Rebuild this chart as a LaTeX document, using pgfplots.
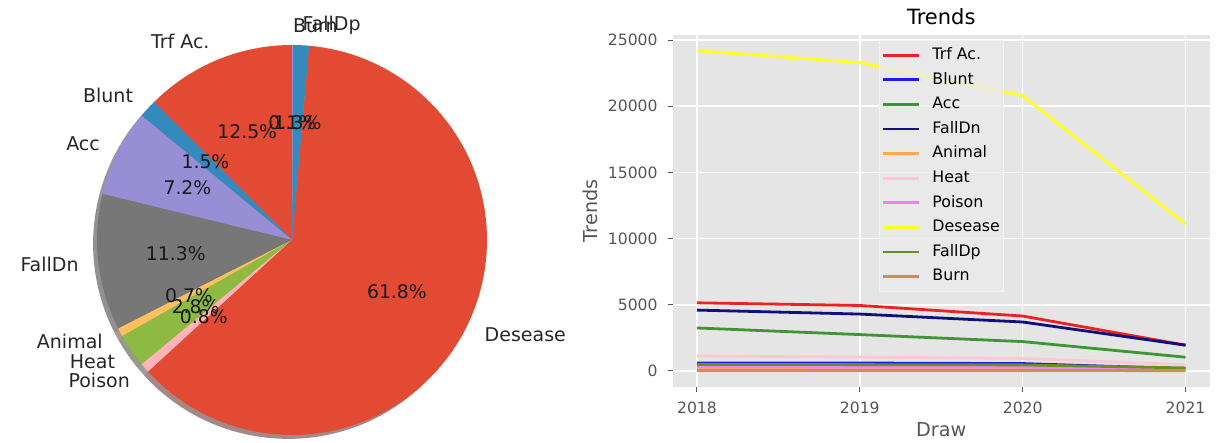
\documentclass[border=0pt]{standalone}
\usepackage{pgfplots}
\pgfplotsset{compat=1.18}
\usepackage{fontspec}
\setmainfont{DejaVu Sans}
\setsansfont{DejaVu Sans}

\definecolor{ggred}{HTML}{E24A33}
\definecolor{ggblue}{HTML}{348ABD}
\definecolor{ggpurple}{HTML}{988ED5}
\definecolor{gggray}{HTML}{777777}
\definecolor{ggyellow}{HTML}{FBC15E}
\definecolor{gggreen}{HTML}{8EBA42}
\definecolor{ggpink}{HTML}{FFB5B8}
\definecolor{bgc}{HTML}{E5E5E5}
\definecolor{tickc}{HTML}{555555}
\definecolor{legc}{HTML}{EBEBEB}
\definecolor{legedge}{HTML}{F2F2F2}

\definecolor{lred}{HTML}{F02020}
\definecolor{lblue}{HTML}{1A1AFF}
\definecolor{lgreen}{HTML}{3C9632}
\definecolor{lnavy}{HTML}{10107A}
\definecolor{lorange}{HTML}{FFAA50}
\definecolor{lpink}{HTML}{FFC8D0}
\definecolor{lviolet}{HTML}{EE82EE}
\definecolor{lyellow}{HTML}{FFFF20}
\definecolor{lolive}{HTML}{6B8E23}
\definecolor{lperu}{HTML}{CD8F50}

% pie shares (percent), in plotting order (counter-clockwise from 90 degrees)
\def\pTrf{12.5}\def\pBlunt{1.5}\def\pAcc{7.2}\def\pFallDn{11.3}\def\pAnimal{0.7}
\def\pHeat{2.8}\def\pPoison{0.8}\def\pDesease{61.8}\def\pFallDp{1.3}\def\pBurn{0.1}

\pgfmathsetmacro\aA{90}
\pgfmathsetmacro\aB{\aA+3.6*\pTrf}
\pgfmathsetmacro\aC{\aB+3.6*\pBlunt}
\pgfmathsetmacro\aD{\aC+3.6*\pAcc}
\pgfmathsetmacro\aE{\aD+3.6*\pFallDn}
\pgfmathsetmacro\aF{\aE+3.6*\pAnimal}
\pgfmathsetmacro\aG{\aF+3.6*\pHeat}
\pgfmathsetmacro\aH{\aG+3.6*\pPoison}
\pgfmathsetmacro\aI{\aH+3.6*\pDesease}
\pgfmathsetmacro\aJ{\aI+3.6*\pFallDp}
\pgfmathsetmacro\aK{\aJ+3.6*\pBurn}

\pgfplotstableread{
year  trf   blunt acc  falldn animal heat poison desease falldp burn
2018  5150  600   3250 4600   240    1130 300    24200   500    35
2019  4950  600   2750 4300   240    1050 290    23300   480    35
2020  4150  560   2220 3700   250    950  280    20800   460    35
2021  1950  170   1040 1950   170    470  160    11100   230    25
}\trends

\def\pieR{97.5pt}
\newcommand\pwedge[3]{\fill[#3] (axis cs:0,0) -- ++(#1:\pieR) arc[start angle=#1, end angle=#2, radius=\pieR] -- cycle;}
\newcommand\pshadow[3]{\fill[#3!30!black, opacity=0.5] ([shift={(-1.95pt,-1.95pt)}]axis cs:0,0) -- ++(#1:\pieR) arc[start angle=#1, end angle=#2, radius=\pieR] -- cycle;}
\newcommand\plabel[4]{\path (axis cs:0,0) ++({(#1+#2)/2}:107.25pt) node[anchor=#3, inner sep=0pt, text=black!85, font=\fontsize{9.5}{11}\selectfont] {#4};}
\newcommand\ppct[3]{\path (axis cs:0,0) ++({(#1+#2)/2}:58.5pt) node[inner sep=0pt, text=black!90, font=\fontsize{9.4}{11}\selectfont] {#3\%};}

\begin{document}%
\begin{tikzpicture}

% ---------------- pie ----------------
\begin{axis}[at={(-4pt,-8.5pt)}, anchor=south west, x=1pt, y=1pt,
  xmin=-150, xmax=150, ymin=-110, ymax=110, hide axis, xtick=\empty, ytick=\empty, clip=false]
\pshadow{\aA}{\aB}{ggred}
\pshadow{\aB}{\aC}{ggblue}
\pshadow{\aC}{\aD}{ggpurple}
\pshadow{\aD}{\aE}{gggray}
\pshadow{\aE}{\aF}{ggyellow}
\pshadow{\aF}{\aG}{gggreen}
\pshadow{\aG}{\aH}{ggpink}
\pshadow{\aH}{\aI}{ggred}
\pshadow{\aI}{\aJ}{ggblue}
\pshadow{\aJ}{\aK}{ggpurple}
\pwedge{\aA}{\aB}{ggred}
\pwedge{\aB}{\aC}{ggblue}
\pwedge{\aC}{\aD}{ggpurple}
\pwedge{\aD}{\aE}{gggray}
\pwedge{\aE}{\aF}{ggyellow}
\pwedge{\aF}{\aG}{gggreen}
\pwedge{\aG}{\aH}{ggpink}
\pwedge{\aH}{\aI}{ggred}
\pwedge{\aI}{\aJ}{ggblue}
\pwedge{\aJ}{\aK}{ggpurple}
\plabel{\aA}{\aB}{east}{Trf Ac.}
\plabel{\aB}{\aC}{east}{Blunt}
\plabel{\aC}{\aD}{east}{Acc}
\plabel{\aD}{\aE}{east}{FallDn}
\plabel{\aE}{\aF}{east}{Animal}
\plabel{\aF}{\aG}{east}{Heat}
\plabel{\aG}{\aH}{east}{Poison}
\plabel{\aH}{\aI}{west}{Desease}
\plabel{\aI}{\aJ}{west}{FallDp}
\plabel{\aJ}{\aK}{west}{Burn}
\ppct{\aA}{\aB}{\pTrf}
\ppct{\aB}{\aC}{\pBlunt}
\ppct{\aC}{\aD}{\pAcc}
\ppct{\aD}{\aE}{\pFallDn}
\ppct{\aE}{\aF}{\pAnimal}
\ppct{\aF}{\aG}{\pHeat}
\ppct{\aG}{\aH}{\pPoison}
\ppct{\aH}{\aI}{\pDesease}
\ppct{\aI}{\aJ}{\pFallDp}
\ppct{\aJ}{\aK}{\pBurn}
\end{axis}

% ---------------- line chart ----------------
\begin{axis}[at={(336.25pt,28pt)}, anchor=south west, scale only axis,
  width=268.75pt, height=176.15pt,
  xmin=2017.85, xmax=2021.15, ymin=-1210, ymax=25410,
  axis background/.style={fill=bgc},
  axis line style={draw=none},
  grid=major, major grid style={white, line width=0.8pt},
  xtick={2018,2019,2020,2021}, ytick={0,5000,10000,15000,20000,25000},
  xtick pos=bottom, ytick pos=left,
  tick align=outside, major tick length=2.5pt,
  tick style={tickc, line width=0.5pt},
  scaled y ticks=false,
  /pgf/number format/assume math mode=true,
  /pgf/number format/1000 sep={},
  tick label style={font=\fontsize{7.8}{9}\selectfont, text=tickc, inner sep=4.8pt},
  every axis title shift=0pt,
  title={Trends},
  title style={at={(axis description cs:0.5,1.050)}, anchor=center, yshift=0pt, font=\fontsize{10.5}{12}\selectfont, inner sep=0pt},
  xlabel={Draw},
  xlabel style={at={(axis description cs:0.5,-0.122)}, anchor=center, font=\fontsize{9.6}{11}\selectfont, text=tickc, inner sep=0pt},
  ylabel={Trends},
  ylabel style={at={(axis description cs:-0.1535,0.5)}, anchor=center, font=\fontsize{9.6}{11}\selectfont, text=tickc, inner sep=0pt},
  every axis plot/.append style={line width=1.4pt},
  legend cell align=left,
  legend image code/.code={\draw[#1] (0pt,0pt) -- (18pt,0pt);},
  legend style={at={(0.385,0.985)}, anchor=north west, fill=legc, fill opacity=0.8, text opacity=1,
    draw=legedge, font=\fontsize{7.9}{9}\selectfont, inner xsep=1pt, inner ysep=3pt, row sep=3.4pt,
    nodes={inner sep=0.6pt, text height=6pt, text depth=1.7pt},
    /tikz/every odd column/.append style={column sep=5.3pt}},
]
\addplot[lred]    table[x=year,y=trf]{\trends};      \addlegendentry{Trf Ac.}
\addplot[lblue]   table[x=year,y=blunt]{\trends};    \addlegendentry{Blunt}
\addplot[lgreen]  table[x=year,y=acc]{\trends};      \addlegendentry{Acc}
\addplot[lnavy]   table[x=year,y=falldn]{\trends};   \addlegendentry{FallDn}
\addplot[lorange] table[x=year,y=animal]{\trends};   \addlegendentry{Animal}
\addplot[lpink]   table[x=year,y=heat]{\trends};     \addlegendentry{Heat}
\addplot[lviolet] table[x=year,y=poison]{\trends};   \addlegendentry{Poison}
\addplot[lyellow] table[x=year,y=desease]{\trends};  \addlegendentry{Desease}
\addplot[lolive]  table[x=year,y=falldp]{\trends};   \addlegendentry{FallDp}
\addplot[lperu]   table[x=year,y=burn]{\trends};     \addlegendentry{Burn}
\end{axis}
\pgfresetboundingbox
\path[use as bounding box] (0,0) rectangle (608.5pt,221.5pt);
\end{tikzpicture}%
\end{document}
